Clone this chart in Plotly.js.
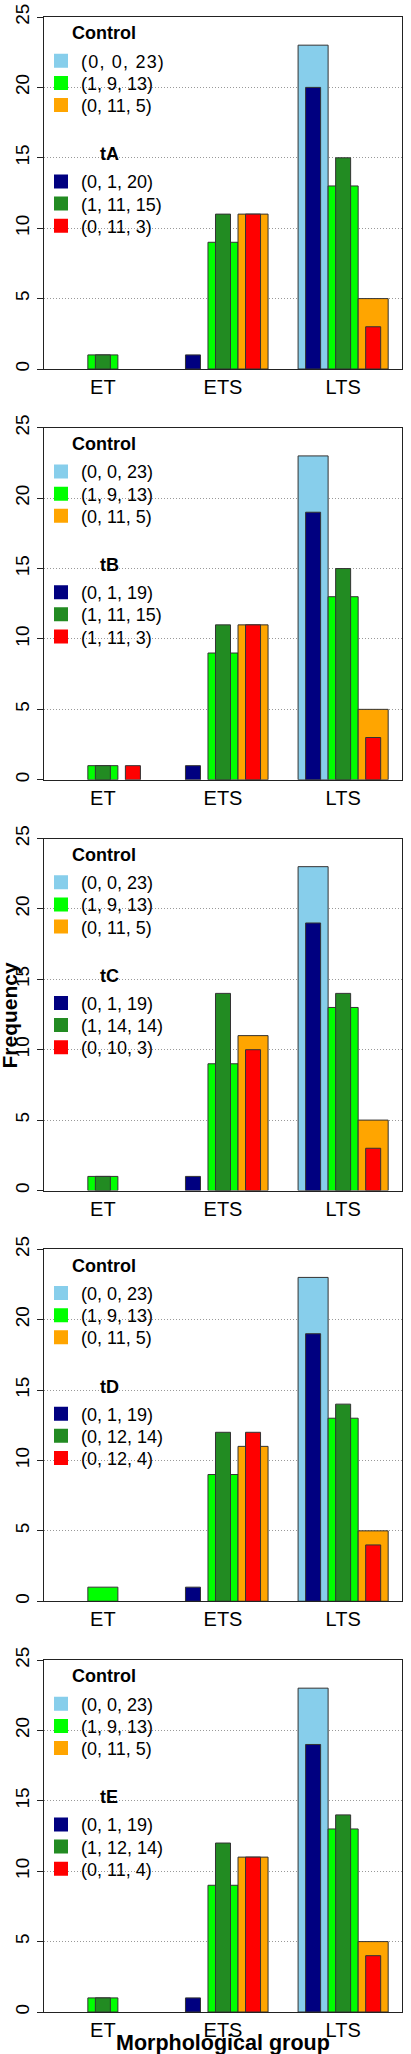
<!DOCTYPE html>
<html><head><meta charset="utf-8">
<script src="https://cdn.plot.ly/plotly-3.0.1.min.js"></script>
<style>html,body{margin:0;padding:0;background:#fff}#chart{width:411px;height:2054px}
.legendtext{letter-spacing:1.2px}</style>
</head><body><div id="chart"></div>
<script>
// ---- data ----
const categories = ['ET', 'ETS', 'LTS'];
const controlTitle = 'Control';
const controlColors = ['#87CEEB', '#00FF00', '#FFA500'];
const treatColors = ['#000080', '#228B22', '#FF0000'];
const controlValues = [[0, 0, 23], [1, 9, 13], [0, 11, 5]];
const panelNames = ['tA', 'tB', 'tC', 'tD', 'tE'];
const tA = [[0, 1, 20], [1, 11, 15], [0, 11, 3]];
const tB = [[0, 1, 19], [1, 11, 15], [1, 11, 3]];
const tC = [[0, 1, 19], [1, 14, 14], [0, 10, 3]];
const tD = [[0, 1, 19], [0, 12, 14], [0, 12, 4]];
const tE = [[0, 1, 19], [1, 12, 14], [0, 11, 4]];
const treatments = [tA, tB, tC, tD, tE];
const yTicks = [0, 5, 10, 15, 20, 25];
const yTitle = 'Frequency';
const xTitle = 'Morphological group';

// ---- layout geometry ----
const W = 411, H = 2054, ml = 44, mr = 9, mt = 17, mb = 42;
const panelStep = 410.75, panelH = 352;
const CW = 0.25, TW = 0.125;
const FONT = 'Liberation Sans, Arial, Helvetica, sans-serif';
const py = p => (H - mb - p) / (H - mt - mb);
const pxX = p => (p - ml) / (W - ml - mr);
const lab = v => '(' + v.join(', ') + ')';
const itemOffsets = [[44, 66.2, 88.4], [164.7, 186.9, 209.1]];

const traces = [];
const layout = {
  width: W, height: H,
  margin: {l: ml, r: mr, t: mt, b: mb},
  paper_bgcolor: '#fff', plot_bgcolor: '#fff',
  barmode: 'overlay',
  font: {family: FONT, color: '#000', size: 18},
  annotations: [],
  hovermode: false
};

treatments.forEach((tr, i) => {
  const n = i + 1;
  const xa = n === 1 ? 'x' : 'x' + n;
  const ya = n === 1 ? 'y' : 'y' + n;
  const top = mt + panelStep * i, bot = top + panelH;

  const addBars = (series, colors, w) => series.forEach((vals, k) => {
    traces.push({type: 'bar', x: categories, y: vals, xaxis: xa, yaxis: ya,
      width: w, offset: (k - 1) * CW - w / 2,
      marker: {color: colors[k], line: {color: '#333', width: vals.map(v => v > 0 ? 1 : 0)}},
      showlegend: false});
  });
  addBars(controlValues, controlColors, CW);
  addBars(tr, treatColors, TW);

  // legend entries, one legend per entry for exact spacing
  [[controlValues, controlColors], [tr, treatColors]].forEach(([series, colors], g) => {
    series.forEach((vals, k) => {
      const idx = i * 6 + g * 3 + k + 1;
      const lg = idx === 1 ? 'legend' : 'legend' + idx;
      traces.push({type: 'bar', x: [null], y: [null], xaxis: xa, yaxis: ya, name: lab(vals),
        marker: {color: colors[k], line: {color: colors[k], width: 2}}, legend: lg, showlegend: true});
      layout[lg] = {xanchor: 'left', yanchor: 'middle', x: pxX(41), y: py(top + itemOffsets[g][k]),
        bgcolor: 'rgba(0,0,0,0)', borderwidth: 0, font: {size: 18, color: '#000', family: FONT},
        itemclick: false, itemdoubleclick: false};
    });
  });
  layout.annotations.push({text: '<b>' + controlTitle + '</b>', xref: 'paper', yref: 'paper',
    x: pxX(104), y: py(top + 16.3), xanchor: 'center', yanchor: 'middle', showarrow: false,
    font: {size: 18, color: '#000'}});
  layout.annotations.push({text: '<b>' + panelNames[i] + '</b>', xref: 'paper', yref: 'paper',
    x: pxX(109), y: py(top + 137.3), xanchor: 'center', yanchor: 'middle', showarrow: false,
    font: {size: 18, color: '#000'}});

  layout[xa.replace('x', 'xaxis')] = {
    domain: [0, 1], anchor: ya, type: 'category', categoryarray: categories,
    range: [-0.49, 2.49], showline: true, mirror: true, linecolor: '#222', linewidth: 1,
    ticks: '', showgrid: false, zeroline: false, tickfont: {size: 20, color: '#000'}, fixedrange: true
  };
  layout[ya.replace('y', 'yaxis')] = {
    domain: [py(bot), py(top)], anchor: xa, range: [0, 25], tickvals: yTicks,
    ticks: 'outside', ticklen: 6, tickcolor: '#222', tickwidth: 1, tickangle: -90,
    showline: true, mirror: true, linecolor: '#222', linewidth: 1,
    showgrid: true, gridcolor: '#999', gridwidth: 1, griddash: '1px,2px', zeroline: false,
    tickfont: {size: 19, color: '#000'}, fixedrange: true
  };
});

layout.annotations.push({text: '<b>' + yTitle + '</b>', xref: 'paper', yref: 'paper',
  x: pxX(8.5), y: py(1015), xanchor: 'center', yanchor: 'middle', textangle: -90,
  showarrow: false, font: {size: 21, color: '#000'}});
layout.annotations.push({text: '<b>' + xTitle + '</b>', xref: 'paper', yref: 'paper',
  x: pxX(223.3), y: py(2043), xanchor: 'center', yanchor: 'middle',
  showarrow: false, font: {size: 21.5, color: '#000'}});

Plotly.newPlot('chart', traces, layout, {staticPlot: true, displayModeBar: false});
</script></body></html>
